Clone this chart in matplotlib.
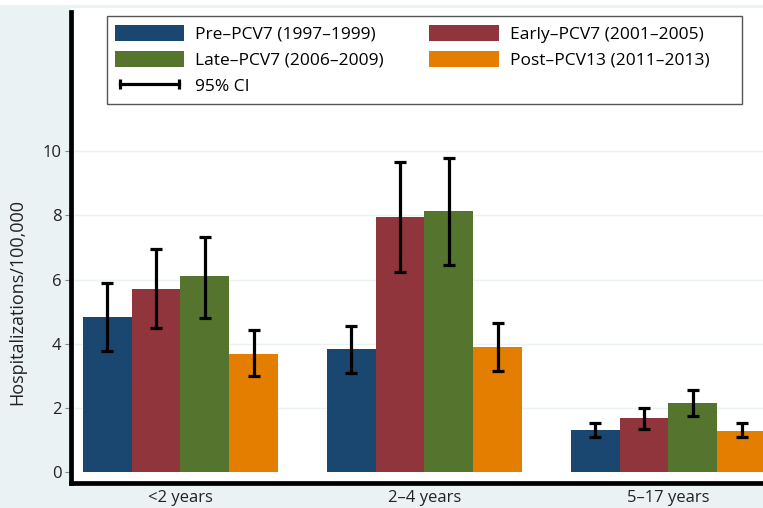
import numpy as np
import matplotlib.pyplot as plt
from matplotlib.lines import Line2D
from matplotlib.patches import Patch, Rectangle

plt.rcParams['font.family'] = ['Open Sans', 'DejaVu Sans']

# Data
groups = ['<2 years', '2\u20134 years', '5\u201317 years']
periods = ['Pre\u2013PCV7 (1997\u20131999)', 'Early\u2013PCV7 (2001\u20132005)',
           'Late\u2013PCV7 (2006\u20132009)', 'Post\u2013PCV13 (2011\u20132013)']
rates = np.array([
    [4.83, 3.85, 1.33],   # pre
    [5.72, 7.95, 1.70],   # early
    [6.10, 8.12, 2.15],   # late
    [3.70, 3.90, 1.30],   # post
])
ci_low = np.array([
    [3.78, 3.10, 1.10],
    [4.50, 6.25, 1.35],
    [4.82, 6.45, 1.75],
    [3.00, 3.15, 1.10],
])
ci_high = np.array([
    [5.90, 4.57, 1.55],
    [6.95, 9.65, 2.00],
    [7.33, 9.77, 2.58],
    [4.42, 4.65, 1.55],
])
colors = ['#1a476f', '#90353b', '#55752f', '#e37e00']

W, H = 763, 508
fig = plt.figure(figsize=(W / 100, H / 100), dpi=100)
fig.patch.set_facecolor('#eaf2f3')
fig.add_artist(Rectangle((0, 1 - 5 / H), 1, 5 / H, transform=fig.transFigure,
                         facecolor='white', edgecolor='none', zorder=-1))

ax = fig.add_axes([71 / W, (H - 483) / H, 1 - 71 / W, (483 - 8) / H])
ax.set_facecolor('white')

x = np.arange(len(groups)) * 5.0
offsets = [-1.5, -0.5, 0.5, 1.5]
for i, p in enumerate(periods):
    xi = x + offsets[i]
    ax.bar(xi, rates[i], width=1.0, color=colors[i], zorder=2)
    ax.errorbar(xi, rates[i], yerr=[rates[i] - ci_low[i], ci_high[i] - rates[i]],
                fmt='none', ecolor='black', elinewidth=2.3, capsize=4.5,
                capthick=2.3, zorder=3)

ax.set_xlim(-2.244, 11.94)
ax.set_ylim(-0.327, 14.45)
ax.set_yticks([0, 2, 4, 6, 8, 10])
ax.set_xticks(x)
ax.set_xticklabels(groups)
ax.tick_params(axis='x', length=0, pad=5, labelsize=12, colors='#222222')
ax.tick_params(axis='y', length=4, width=0.8, color='#888888', pad=3,
               labelsize=12, labelcolor='#222222')
for yv in [2, 4, 6, 8, 10]:
    ax.axhline(yv, color='#eaf2f3', lw=1.0, zorder=1)

for s in ['top', 'right']:
    ax.spines[s].set_visible(False)
for s in ['left', 'bottom']:
    ax.spines[s].set_linewidth(3.4)
    ax.spines[s].set_color('black')
ax.spines['left'].set_bounds(-0.327, 14.33)

ax.set_ylabel('Hospitalizations/100,000', fontsize=13, color='#222222')
ax.yaxis.set_label_coords(-0.065, (483 - 302) / 475)

# legend: frame drawn separately so the box keeps Stata's width
fig.add_artist(Rectangle((107 / W, (H - 104) / H), 635 / W, 88 / H,
                         transform=fig.transFigure, facecolor='white',
                         edgecolor='#555555', lw=1.0, zorder=4))
handles = [Patch(facecolor=colors[0]), Patch(facecolor=colors[2]),
           Line2D([], [], color='black', lw=2.3, marker='|', markersize=7, mew=2.3),
           Patch(facecolor=colors[1]), Patch(facecolor=colors[3])]
labels = [periods[0], periods[2], '95% CI', periods[1], periods[3]]
leg = fig.legend(handles, labels, ncol=2, loc='upper left',
                 bbox_to_anchor=(107 / W, (H - 17) / H),
                 fontsize=12.5, frameon=False, handlelength=4.0,
                 handleheight=1.05, handletextpad=0.63, columnspacing=2.6,
                 labelspacing=0.45, borderpad=0.46, numpoints=2, borderaxespad=0)
leg.set_zorder(5)

fig.savefig('out.png', dpi=100, facecolor=fig.get_facecolor())
